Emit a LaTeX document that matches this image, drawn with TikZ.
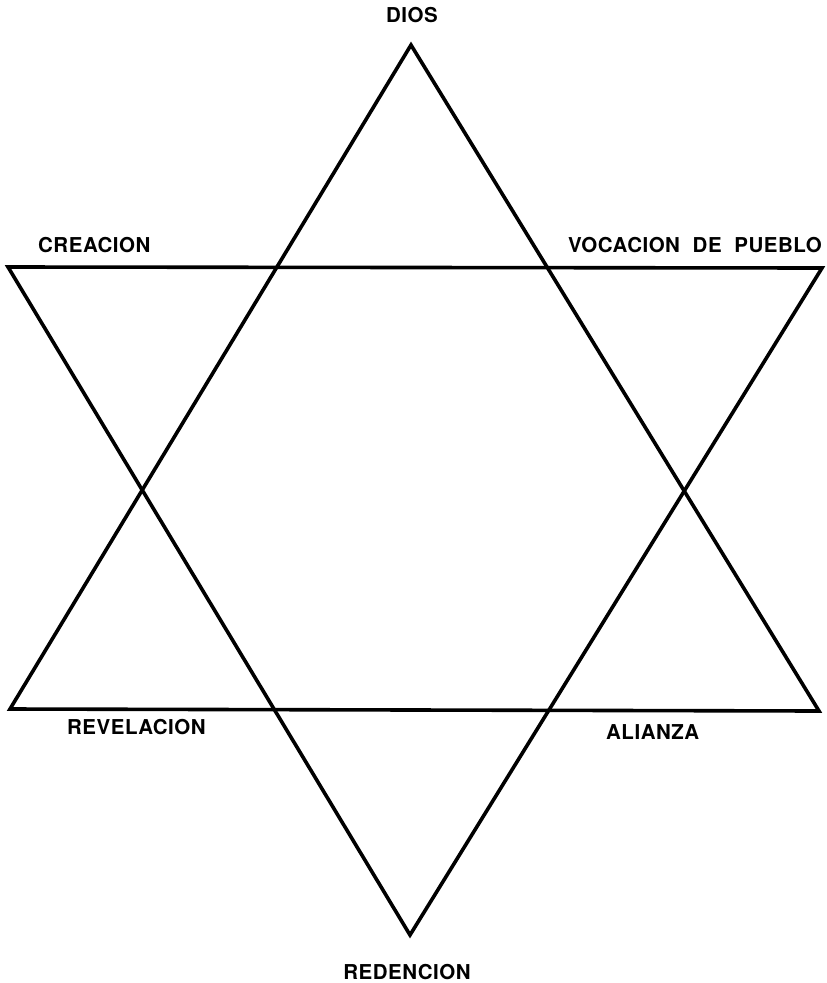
\documentclass[tikz,border=0pt]{standalone}
\usepackage{fontspec}
\setmainfont{TeX Gyre Heros}
\newfontfamily\lblfont{TeX Gyre Heros}[LetterSpace=2.5]
\begin{document}
\begin{tikzpicture}[x=1pt,y=-1pt,
  edge/.style={line width=3.6pt,line join=miter,line cap=round},
  lbl/.style={inner sep=0pt,font=\lblfont\fontsize{20.5}{24}\selectfont\bfseries}]
\useasboundingbox (0,0) rectangle (827,983);
\coordinate (U1) at (411,45);
\coordinate (U2) at (10,709);
\coordinate (U3) at (819,711);
\coordinate (D1) at (8,267);
\coordinate (D2) at (822,268);
\coordinate (D3) at (410,935);
\draw[edge] (U1) -- (U2) -- (U3) -- cycle;
\draw[edge] (D1) -- (D2) -- (D3) -- cycle;
\node[lbl] (dios) at (412,15) {DIOS};
\node[lbl,anchor=west] (creacion) at (38,245) {CREACION};
\node[lbl,anchor=east] (vocacion) at (822,245) {VOCACION\hspace{0.62em}DE\hspace{0.62em}PUEBLO};
\node[lbl,anchor=west] (revelacion) at (67,727) {REVELACION};
\node[lbl,anchor=west] (alianza) at (606,732) {ALIANZA};
\node[lbl] (redencion) at (407,972) {REDENCION};
\end{tikzpicture}
\end{document}
